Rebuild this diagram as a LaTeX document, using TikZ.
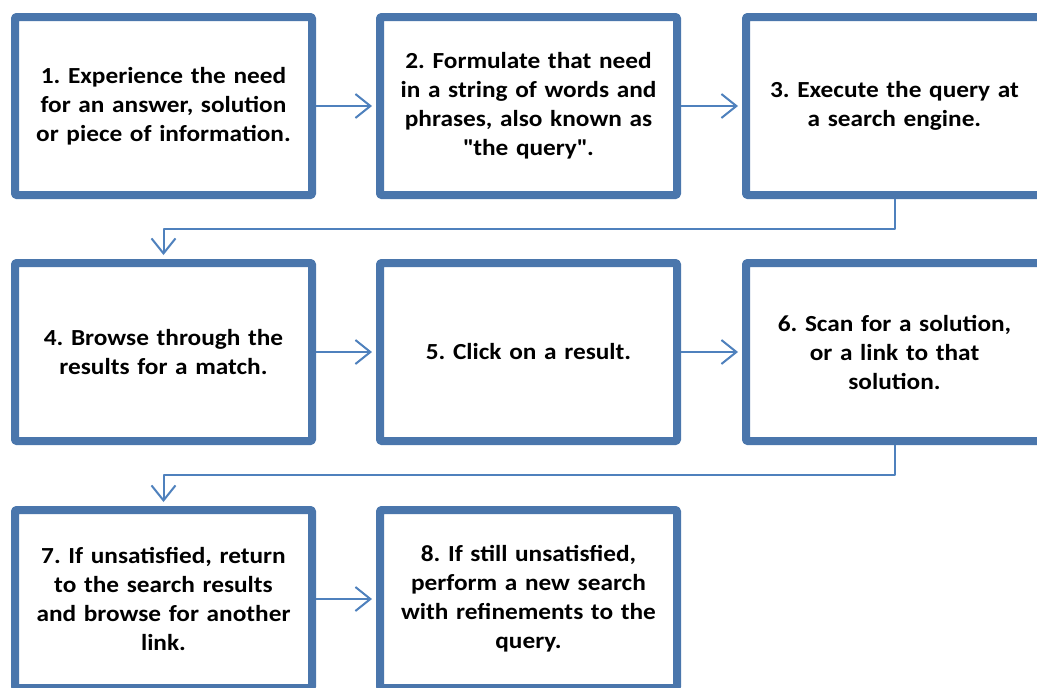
\documentclass[tikz,border=0pt]{standalone}
\usepackage{fontspec}
\setmainfont{Carlito}[FakeStretch=1.1]
\usetikzlibrary{arrows.meta,shadows}
\definecolor{boxblue}{RGB}{74,118,172}
\definecolor{lineblue}{RGB}{79,129,189}
\frenchspacing
\begin{document}
\begin{tikzpicture}[x=1pt,y=-1pt,line join=round]
	\tikzset{stepbox/.style={draw=boxblue,fill=white,line width=8pt,rounded corners=1pt,
			minimum width=297pt,minimum height=178pt,text width=285pt,align=center,
			font=\fontsize{23}{29}\selectfont\bfseries,
			drop shadow={opacity=0.35,shadow xshift=2pt,shadow yshift=-3pt}},
		link/.style={draw=lineblue,line width=2pt,-{Straight Barb[length=15pt,width=24pt,line width=2pt]},shorten >=4pt}}
	\useasboundingbox (0,0) rectangle (1037,688);
	% first row
	\node[stepbox] (n1) at (163.5,106) {1. Experience the need\\for an answer, solution\\or piece of information.};
	\node[stepbox] (n2) at (528.5,106) {2. Formulate that need\\in a string of words and\\phrases, also known as\\\textquotedbl the query\textquotedbl.};
	\node[stepbox] (n3) at (894.5,106) {3. Execute the query at\\a search engine.};
	% second row
	\node[stepbox] (n4) at (163.5,352) {4. Browse through the\\results for a match.};
	\node[stepbox] (n5) at (528.5,352) {5. Click on a result.};
	\node[stepbox] (n6) at (894.5,352) {6. Scan for a solution,\\or a link to that\\solution.};
	% third row
	\node[stepbox] (n7) at (163.5,599) {7. If unsatisfied, return\\to the search results\\and browse for another\\link.};
	\node[stepbox] (n8) at (528.5,599) {8. If still unsatisfied,\\perform a new search\\with refinements to the\\query.};
	% connectors
	\draw[link] (n1) -- (n2);
	\draw[link] (n2) -- (n3);
	\draw[link] (n4) -- (n5);
	\draw[link] (n5) -- (n6);
	\draw[link] (n7) -- (n8);
	\draw[link] (n3.south) -- ++(0,30) -| (n4.north);
	\draw[link] (n6.south) -- ++(0,30) -| (n7.north);
\end{tikzpicture}
\end{document}
